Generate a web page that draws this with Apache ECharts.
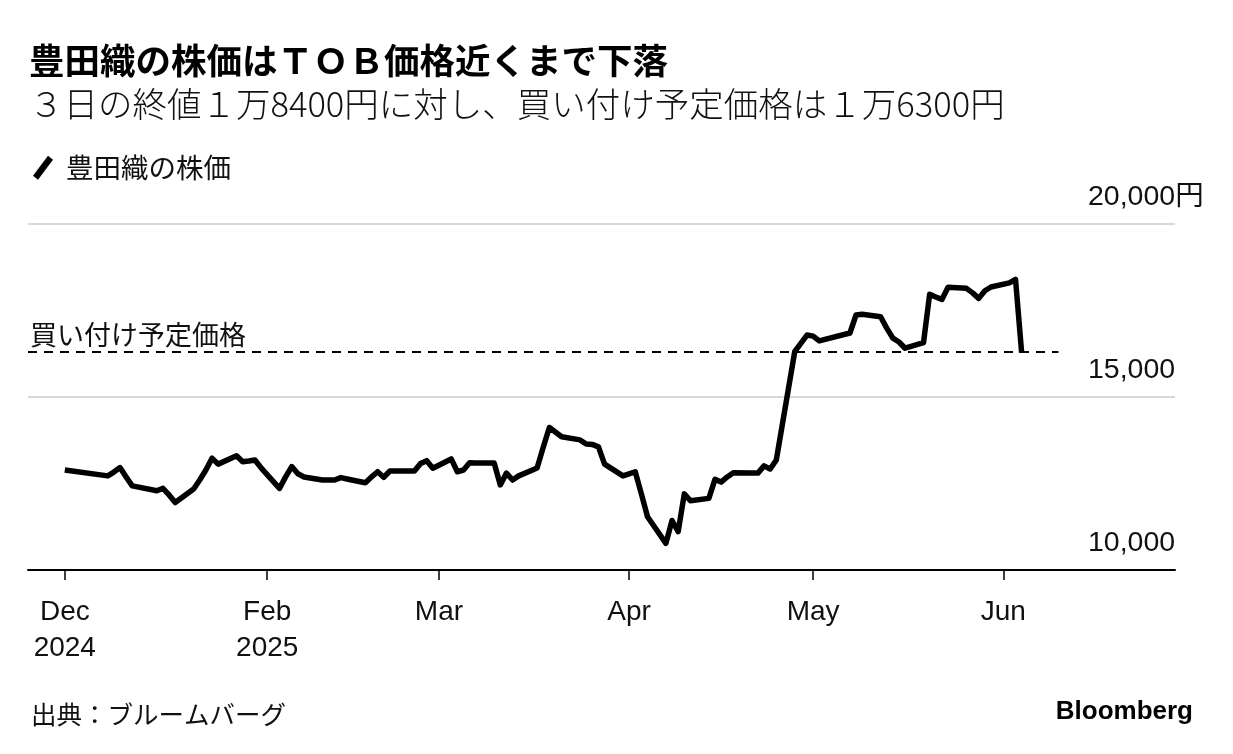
<!DOCTYPE html>
<html>
<head>
<meta charset="utf-8">
<script src="https://cdn.jsdelivr.net/npm/echarts@6/dist/echarts.min.js"></script>
<style>
html,body{margin:0;padding:0;background:#fff;}
#chart{width:1233px;height:754px;}
</style>
</head>
<body>
<div id="chart"></div>
<script>
// ---- data ----
const titleText = '豊田織の株価はＴＯＢ価格近くまで下落';
const subtitleText = '３日の終値１万8400円に対し、買い付け予定価格は１万6300円';
const seriesName = '豊田織の株価';
const tobLabel = '買い付け予定価格';
const tobPrice = 16300;
const sourceText = '出典：ブルームバーグ';

const dates = [
  '2024-12-30',
  '2025-01-06','2025-01-07','2025-01-08','2025-01-09','2025-01-10','2025-01-14','2025-01-15','2025-01-16','2025-01-17',
  '2025-01-20','2025-01-21','2025-01-22','2025-01-23','2025-01-24','2025-01-27','2025-01-28','2025-01-29','2025-01-30','2025-01-31',
  '2025-02-03','2025-02-04','2025-02-05','2025-02-06','2025-02-07','2025-02-10','2025-02-12','2025-02-13','2025-02-14',
  '2025-02-17','2025-02-18','2025-02-19','2025-02-20','2025-02-21','2025-02-25','2025-02-26','2025-02-27','2025-02-28',
  '2025-03-03','2025-03-04','2025-03-05','2025-03-06','2025-03-07','2025-03-10','2025-03-11','2025-03-12','2025-03-13','2025-03-14',
  '2025-03-17','2025-03-18','2025-03-19','2025-03-21','2025-03-24','2025-03-25','2025-03-26','2025-03-27','2025-03-28','2025-03-31',
  '2025-04-01','2025-04-02','2025-04-03','2025-04-04','2025-04-07','2025-04-08','2025-04-09','2025-04-10','2025-04-11',
  '2025-04-14','2025-04-15','2025-04-16','2025-04-17','2025-04-18','2025-04-21','2025-04-22','2025-04-23','2025-04-24','2025-04-25',
  '2025-04-28','2025-04-30',
  '2025-05-01','2025-05-02','2025-05-07','2025-05-08','2025-05-09','2025-05-12','2025-05-13','2025-05-14','2025-05-15','2025-05-16',
  '2025-05-19','2025-05-20','2025-05-21','2025-05-22','2025-05-23','2025-05-26','2025-05-27','2025-05-28','2025-05-29','2025-05-30',
  '2025-06-02','2025-06-03','2025-06-04'
];
const prices = [
  12890,
  12720,12830,12960,12690,12430,12290,12360,12170,11950,
  12340,12600,12890,13230,13060,13300,13130,13150,13180,12950,
  12360,12690,12990,12780,12690,12600,12600,12670,12630,
  12520,12690,12840,12680,12860,12860,13080,13160,12940,
  13210,12840,12890,13100,13090,13090,12460,12800,12600,12720,
  12950,13550,14120,13850,13760,13640,13630,13560,13060,12720,
  12780,12840,12200,11540,10770,11430,11110,12200,12000,
  12070,12620,12540,12690,12810,12800,12800,13010,12920,13180,
  16310,16790,
  16760,16620,16850,17370,17390,17320,16990,16700,16590,16410,
  16570,17970,17890,17820,18170,18140,18010,17850,18070,18180,
  18300,18400,16280
];
const tickDates = ['2024-12-30','2025-02-01','2025-03-01','2025-04-01','2025-05-01','2025-06-01'];
const tickLabels = ['Dec\n2024','Feb\n2025','Mar','Apr','May','Jun'];
const yTicks = [10000, 15000, 20000];
const xStart = '2024-12-24', xEnd = '2025-06-29', tobLineEnd = '2025-06-10';

// ---- helpers ----
function d(s){ const p = s.split('-').map(Number); return Date.UTC(p[0], p[1]-1, p[2]); }
const tickTs = tickDates.map(d);
const data = dates.map((s, i) => [d(s), prices[i]]);
const LATIN = "'Liberation Sans', 'Noto Sans CJK JP', sans-serif";
const CJK = "'Noto Sans CJK JP', sans-serif";

const chart = echarts.init(document.getElementById('chart'), null, {renderer: 'canvas'});
chart.setOption({
  animation: false,
  backgroundColor: '#fff',
  title: [
    {text: titleText, left: 24, top: 38, textStyle: {fontFamily: CJK, fontSize: 35.5, fontWeight: 'bold', color: '#000'}},
    {text: subtitleText, left: 24, top: 82, textStyle: {fontFamily: CJK, fontSize: 34.5, fontWeight: 300, color: '#111'}},
    {text: sourceText, left: 26, top: 697, textStyle: {fontFamily: CJK, fontSize: 25.5, fontWeight: 'normal', color: '#111'}},
    {text: 'Bloomberg', right: 35, top: 694, textStyle: {fontFamily: LATIN, fontSize: 26, fontWeight: 'bold', color: '#000'}}
  ],
  legend: {
    left: 28, top: 149,
    icon: 'path://M0,20 L15,0 L20,4 L5,24 Z',
    itemWidth: 20, itemHeight: 24, itemGap: 10,
    textStyle: {fontFamily: CJK, fontSize: 27.5, color: '#111', padding: [0, 0, 0, 8]},
    data: [seriesName]
  },
  grid: {left: 28, right: 58, top: 224, bottom: 184, containLabel: false, outerBoundsMode: 'none'},
  xAxis: {
    type: 'value',
    min: d(xStart), max: d(xEnd),
    axisLine: {show: true, lineStyle: {color: '#000', width: 2}},
    axisTick: {show: true, customValues: tickTs, length: 10, lineStyle: {color: '#000', width: 1.5}},
    axisLabel: {
      customValues: tickTs,
      margin: 24,
      fontFamily: LATIN, fontSize: 28, lineHeight: 36, color: '#111',
      formatter: function(v){
        const i = tickTs.findIndex(t => Math.abs(t - v) < 3600000);
        return i >= 0 ? tickLabels[i] : '';
      }
    },
    splitLine: {show: false}
  },
  yAxis: {
    type: 'value',
    position: 'right',
    min: yTicks[0], max: yTicks[yTicks.length-1], interval: 5000,
    axisLine: {show: false}, axisTick: {show: false},
    splitLine: {show: true, lineStyle: {color: '#d9d9d9', width: 2}},
    axisLabel: {
      inside: true, align: 'left', margin: 87,
      verticalAlign: 'bottom', padding: [0, 0, 13, 0],
      fontFamily: LATIN, fontSize: 28.5, color: '#111',
      formatter: function(v){
        const s = Number(v).toLocaleString('en-US');
        return v === yTicks[yTicks.length-1] ? s + '円' : s;
      }
    }
  },
  series: [{
    name: seriesName,
    type: 'line',
    data: data,
    showSymbol: false,
    symbol: 'none',
    lineStyle: {color: '#000', width: 5.5, join: 'round'},
    itemStyle: {color: '#000'},
    z: 5,
    markLine: {
      silent: true,
      symbol: ['none', 'none'],
      lineStyle: {color: '#000', width: 2, type: [9, 7]},
      label: {
        show: true, position: 'insideStartTop', formatter: tobLabel,
        fontFamily: CJK, fontSize: 27, color: '#111', distance: [2, 4]
      },
      data: [[{coord: [d(xStart), tobPrice]}, {coord: [d(tobLineEnd), tobPrice]}]]
    }
  }]
});
</script>
</body>
</html>
